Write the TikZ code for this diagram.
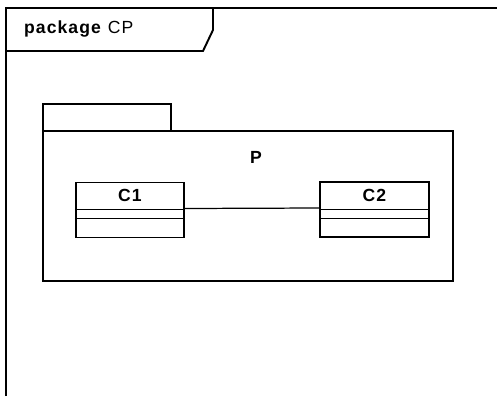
\documentclass[tikz,border=0pt]{standalone}
\usepackage{fontspec}
\setmainfont{Liberation Sans}[LetterSpace=6]
\usetikzlibrary{calc}
\begin{document}
\begin{tikzpicture}[x=0.02cm, y=-0.02cm,
  frameline/.style={draw=black, line width=1.1pt},
  pkgline/.style={draw=black, line width=0.7pt},
  classbox/.style={draw=black, line width=0.9pt, rectangle, inner sep=0pt,
    minimum width=2.17cm, minimum height=1.1cm},
  divider/.style={draw=black, line width=0.8pt},
  assoc/.style={draw=black, line width=0.7pt},
  lbl/.style={font=\fontsize{10}{12}\selectfont},
]
\useasboundingbox (0,0) rectangle (497,396);
% ===== Frame =====
\draw[frameline] (6,396) -- (6,8) -- (497,8);
\draw[frameline] (6,51) -- (203,51) -- (213,30) -- (213,8);
\node[lbl, anchor=west] (title) at (18,29) {\textbf{package} CP};

% ===== Package P =====
\draw[pkgline] (43,104) rectangle (171,131);
\draw[pkgline] (43,131) rectangle (453,281);
\node[lbl, font=\bfseries] (pname) at (256,157) {P};

% ===== Classes =====
\node[classbox] (c1) at (130,210) {};
\node[classbox] (c2) at (374.5,209.5) {};
\foreach \c/\t in {c1/C1,c2/C2}{
  \node[lbl, font=\bfseries] at ($(\c.north)+(0,14)$) {\t};
  \draw[divider] ($(\c.north west)+(0,28)$) -- ($(\c.north east)+(0,28)$);
  \draw[divider] ($(\c.north west)+(0,37)$) -- ($(\c.north east)+(0,37)$);
}

% ===== Association =====
\coordinate (a1) at ($(c1.east)+(0,-1.5)$);
\coordinate (a2) at ($(c2.west)+(0,-1.5)$);
\draw[assoc] (a1) -- (a2);
\end{tikzpicture}
\end{document}
